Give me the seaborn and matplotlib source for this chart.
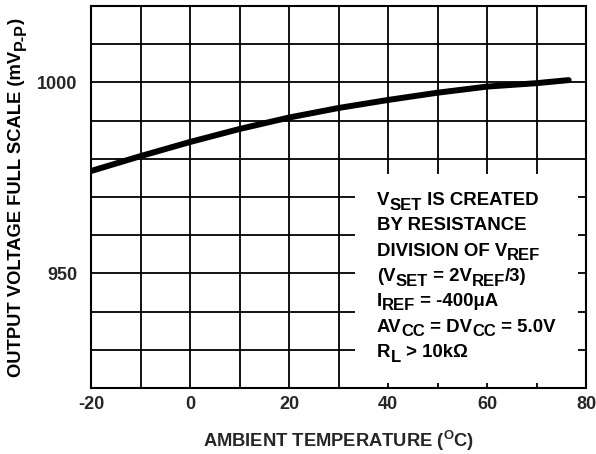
import matplotlib
matplotlib.use("Agg")
import matplotlib.pyplot as plt
import seaborn as sns
import pandas as pd
from matplotlib.patches import Rectangle
from matplotlib.transforms import IdentityTransform

# ---- data ----
temperature = [-20, -10, 0, 10, 20, 30, 40, 50, 60, 70, 76.5]
full_scale_mv = [976.8, 980.7, 984.4, 987.8, 990.8, 993.3, 995.4, 997.3, 998.9, 999.8, 1000.6]
x_ticks = [-20, 0, 20, 40, 60, 80]
y_ticks = [950, 1000]
x_grid = list(range(-20, 81, 10))
y_grid = list(range(920, 1021, 10))

sns.set_theme(style="white")
plt.rcParams["font.family"] = ["Liberation Sans", "DejaVu Sans"]
plt.rcParams["font.weight"] = "bold"
plt.rcParams["mathtext.fontset"] = "custom"
plt.rcParams["mathtext.rm"] = "Liberation Sans:bold"
plt.rcParams["mathtext.bf"] = "Liberation Sans:bold"
plt.rcParams["mathtext.it"] = "Liberation Sans:bold"

W, H = 596, 454
fig = plt.figure(figsize=(W / 100, H / 100), dpi=100)
L, R, T, B = 91, 586, 6, 388
ax = fig.add_axes([L / W, (H - B) / H, (R - L) / W, (B - T) / H])

df = pd.DataFrame({"t": temperature, "v": full_scale_mv})
sns.lineplot(data=df, x="t", y="v", ax=ax, color="black", linewidth=4.3, zorder=3)

ax.set_xlim(-20, 80)
ax.set_ylim(920, 1020)
ax.set_xticks(x_grid)
ax.set_yticks(y_grid)
ax.set_xticklabels([str(v) if v in x_ticks else "" for v in x_grid])
ax.set_yticklabels([str(v) if v in y_ticks else "" for v in y_grid])
ax.grid(True, color="black", linewidth=1.3)
ax.set_axisbelow(True)
ax.tick_params(axis="both", length=0, labelsize=13)
ax.tick_params(axis="x", pad=6)
ax.tick_params(axis="y", pad=10)
for lab in ax.get_xticklabels() + ax.get_yticklabels():
    lab.set_fontweight("bold")
for s in ax.spines.values():
    s.set_color("black")
    s.set_linewidth(1.5)
    s.set_visible(True)

ax.set_xlabel(r"AMBIENT TEMPERATURE ($^{\mathbf{O}}$C)", fontsize=13.2, fontweight="bold", labelpad=11)
ax.set_ylabel("")

# white panel behind the note
ax.add_patch(Rectangle((33.3, 921.3), 78.4 - 33.3, 976.0 - 921.3, facecolor="white",
                       edgecolor="none", zorder=1))

renderer = fig.canvas.get_renderer()

# y-axis title, composed so the subscript keeps a near-full size
ylab_parts = [("OUTPUT VOLTAGE FULL SCALE (mV", 0), ("P-P", 1), (")", 0)]
YMAIN, YSUB, YDROP = 13.2, 11.5, 4.5
texts = []
for s, sub in ylab_parts:
    t = fig.text(0, 0, s, transform=IdentityTransform(), rotation=90,
                 rotation_mode="anchor", ha="left", va="baseline",
                 fontsize=YSUB if sub else YMAIN, fontweight="bold", color="black")
    texts.append((t, sub))
total = sum(t.get_window_extent(renderer).height for t, _ in texts)
y = (H - 197) - total / 2
xb = 21
for t, sub in texts:
    t.set_position((xb + (YDROP if sub else 0), y))
    y += t.get_window_extent(renderer).height

# note text with subscripts composed piece by piece
MAIN, SUB, DROP = 13.4, 12, 4.5
lines = [
    [("V", 0), ("SET", 1), (" IS CREATED", 0)],
    [("BY RESISTANCE", 0)],
    [("DIVISION OF V", 0), ("REF", 1)],
    [("(V", 0), ("SET", 1), (" = 2V", 0), ("REF", 1), ("/3)", 0)],
    [("I", 0), ("REF", 1), (" = -400μA", 0)],
    [("AV", 0), ("CC", 1), (" = DV", 0), ("CC", 1), (" = 5.0V", 0)],
    [("R", 0), ("L", 1), (" > 10kΩ", 0)],
]
baselines = [205, 230.5, 256, 281, 306, 331.5, 357]
x0 = 377
for parts, bl in zip(lines, baselines):
    x = x0
    for s, sub in parts:
        t = fig.text(x, H - bl - (DROP if sub else 0), s, transform=IdentityTransform(),
                     fontsize=SUB if sub else MAIN, fontweight="bold", color="black",
                     va="baseline", ha="left", zorder=5)
        bb = t.get_window_extent(renderer)
        x = bb.x1

fig.savefig("out.png", dpi=100, facecolor="white")
